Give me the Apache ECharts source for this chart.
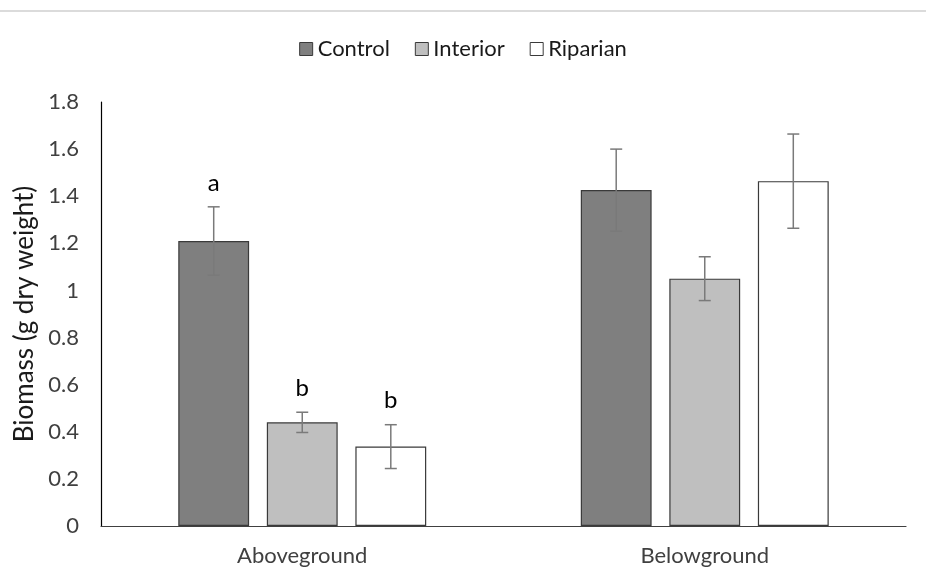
<!DOCTYPE html>
<html><head><meta charset="utf-8">
<script src="https://cdn.jsdelivr.net/npm/echarts@6/dist/echarts.min.js"></script>
<style>html,body{margin:0;padding:0;background:#fff}#c{width:926px;height:588px}</style>
</head><body><div id="c"></div>
<script>
const categories = ['Aboveground', 'Belowground'];
const seriesNames = ['Control', 'Interior', 'Riparian'];
const controlVals = [1.21, 1.426];
const interiorVals = [0.44, 1.05];
const riparianVals = [0.337, 1.464];
const controlErr = [0.145, 0.174];
const interiorErr = [0.043, 0.093];
const riparianErr = [0.093, 0.200];
const controlLetters = ['a', ''];
const interiorLetters = ['b', ''];
const riparianLetters = ['b', ''];
const yTicks = [0, 0.2, 0.4, 0.6, 0.8, 1, 1.2, 1.4, 1.6, 1.8];

const values = [controlVals, interiorVals, riparianVals];
const errs = [controlErr, interiorErr, riparianErr];
const letters = [controlLetters, interiorLetters, riparianLetters];
const colors = ['#7f7f7f', '#bfbfbf', '#ffffff'];
const BAR_RATIO = 0.176, GAP_RATIO = 0.25;
const font = 'Lato, "Noto Sans", sans-serif';

const chart = echarts.init(document.getElementById('c'));
const series = [];
seriesNames.forEach((n, i) => {
  series.push({
    name: n, type: 'bar', data: values[i],
    barWidth: (BAR_RATIO * 100) + '%', barGap: (GAP_RATIO * 100) + '%',
    itemStyle: { color: colors[i], borderColor: '#3a3a3a', borderWidth: 1.2 },
    emphasis: { disabled: true }, z: 2
  });
});
seriesNames.forEach((n, i) => {
  series.push({
    type: 'custom', name: n + ' err',
    data: values[i].map((v, k) => [k, v, errs[i][k]]),
    z: 5,
    renderItem: function (params, api) {
      const k = api.value(0), v = api.value(1), e = api.value(2);
      const band = api.size([1, 0])[0];
      const bw = band * BAR_RATIO;
      const off = (i - 1) * bw * (1 + GAP_RATIO);
      const c = api.coord([k, v]);
      const x = c[0] + off;
      const yt = api.coord([k, v + e])[1];
      const yb = api.coord([k, v - e])[1];
      const cap = 6;
      const st = { stroke: '#7a7a7a', lineWidth: 1.5 };
      const ch = [
        { type: 'line', shape: { x1: x, y1: yt, x2: x, y2: yb }, style: st },
        { type: 'line', shape: { x1: x - cap, y1: yt, x2: x + cap, y2: yt }, style: st },
        { type: 'line', shape: { x1: x - cap, y1: yb, x2: x + cap, y2: yb }, style: st }
      ];
      const lt = letters[i][k];
      if (lt) {
        ch.push({ type: 'text', style: { text: lt, x: x, y: yt - 12, align: 'center', verticalAlign: 'bottom', fill: '#000', font: '24px ' + font } });
      }
      return { type: 'group', children: ch };
    }
  });
});

chart.setOption({
  animation: false,
  backgroundColor: '#fff',
  graphic: [{ type: 'line', shape: { x1: 0, y1: 11, x2: 926, y2: 11 }, style: { stroke: '#cfcfcf', lineWidth: 1.5 } }],
  legend: {
    data: seriesNames, top: 33, left: 'center', itemWidth: 13, itemHeight: 13, itemGap: 25,
    icon: 'rect',
    itemStyle: { borderColor: '#3a3a3a', borderWidth: 1 },
    textStyle: { fontSize: 22, color: '#1a1a1a', fontFamily: font, padding: [0, 0, 0, 0] }
  },
  grid: { left: 101, right: 20, top: 102, bottom: 62, containLabel: false },
  xAxis: {
    type: 'category', data: categories,
    axisLine: { lineStyle: { color: '#404040', width: 1.2 } },
    axisTick: { show: false },
    axisLabel: { fontSize: 22, color: '#404040', fontFamily: font, margin: 19 }
  },
  yAxis: {
    type: 'value', min: 0, max: 1.8, interval: 0.2,
    name: 'Biomass (g dry weight)', nameLocation: 'middle', nameGap: 63, nameRotate: 90,
    nameTextStyle: { fontSize: 26, color: '#1a1a1a', fontFamily: font },
    axisLine: { show: true, lineStyle: { color: '#000', width: 1.2 } },
    axisTick: { show: false },
    splitLine: { show: false },
    axisLabel: { fontSize: 22, color: '#404040', fontFamily: font, margin: 22,
      formatter: v => { const t = yTicks.find(x => Math.abs(x - v) < 1e-9); return String(t !== undefined ? t : v); } }
  },
  series: series
});
</script></body></html>
